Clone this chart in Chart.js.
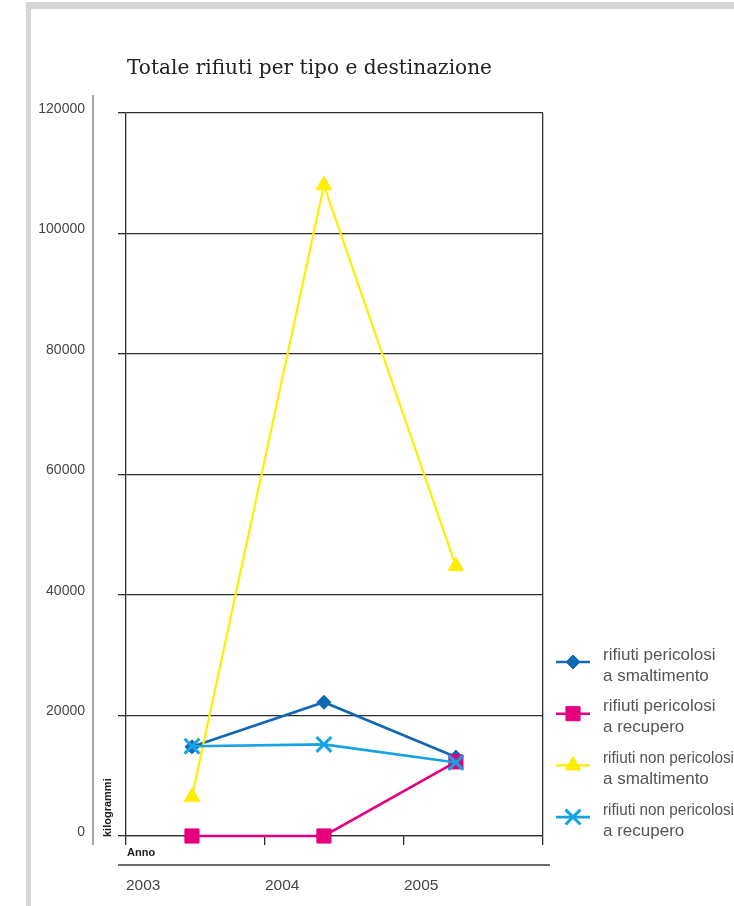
<!DOCTYPE html>
<html>
<head>
<meta charset="utf-8">
<script src="https://cdn.jsdelivr.net/npm/chart.js@4.4.1/dist/chart.umd.min.js"></script>
<style>
  html, body { margin: 0; padding: 0; background: #fff; }
  #wrap { position: relative; width: 734px; height: 906px; overflow: hidden; }
  .frame-v { position: absolute; left: 26px; top: 2px; width: 5px; height: 904px; background: #d6d6d6; }
  .frame-h { position: absolute; left: 26px; top: 2px; width: 708px; height: 7px; background: #d6d6d6; }
  canvas { position: absolute; left: 0; top: 0; }
</style>
</head>
<body>
<div id="wrap">
  <div class="frame-v"></div>
  <div class="frame-h"></div>
  <canvas id="chart" width="734" height="906"></canvas>
</div>
<script>
// Years and tick labels
const years = [2003, 2004, 2005];
const yearLabels = ['2003', '2004', '2005'];
const yTickValues = [0, 20000, 40000, 60000, 80000, 100000, 120000];

// Series values (kilogrammi)
const pericolosiSmaltimento = [14800, 22200, 13100];
const pericolosiRecupero = [0, 0, 12300];
const nonPericolosiSmaltimento = [6500, 108000, 44800];
const nonPericolosiRecupero = [14900, 15200, 12200];

// Series names, two lines each
const nameLines = [
  ['rifiuti pericolosi', 'a smaltimento'],
  ['rifiuti pericolosi', 'a recupero'],
  ['rifiuti non pericolosi', 'a smaltimento'],
  ['rifiuti non pericolosi', 'a recupero']
];

const titleText = 'Totale rifiuti per tipo e destinazione';
const yTitle = 'kilogrammi';
const xTitle = 'Anno';

// Horizontal extent of the year axis and the three year bands
const xMin = 2002.5;
const xMax = 2005.66;
const bandWidth = (xMax - xMin) / years.length;
const bandEdges = [0, 1, 2, 3].map(i => xMin + i * bandWidth);

const AXIS = '#2e2e2e';
const TEXT = '#454545';

function pts(values) {
  return values.map((v, i) => ({ x: years[i], y: v }));
}

const styles = [
  { color: '#1268b3', pointStyle: 'rectRot', radius: 7, width: 2.6, order: 3 },
  { color: '#e5007e', pointStyle: 'rect', radius: 10, width: 2.6, order: 2 },
  { color: '#ffee00', pointStyle: 'triangle', radius: 9, width: 2.2, order: 1 },
  { color: '#15a3e2', pointStyle: 'crossRot', radius: 10.5, width: 2.6, order: 0 }
];
const seriesValues = [pericolosiSmaltimento, pericolosiRecupero, nonPericolosiSmaltimento, nonPericolosiRecupero];

const datasets = seriesValues.map((vals, i) => {
  const s = styles[i];
  return {
    label: nameLines[i].join(' '),
    data: pts(vals),
    borderColor: s.color,
    backgroundColor: s.color,
    borderWidth: s.width,
    pointStyle: s.pointStyle,
    pointRadius: s.radius,
    pointBackgroundColor: s.color,
    pointBorderColor: s.color,
    pointBorderWidth: s.pointStyle === 'crossRot' ? 3 : 1,
    tension: 0,
    clip: false,
    order: s.order
  };
});

function drawMarker(ctx, style, x, y) {
  ctx.save();
  ctx.fillStyle = style.color;
  ctx.strokeStyle = style.color;
  const bw = style.pointStyle === 'crossRot' ? 3 : 1;
  ctx.lineWidth = bw;
  if (Chart.helpers && Chart.helpers.drawPoint) {
    Chart.helpers.drawPoint(ctx, { pointStyle: style.pointStyle, radius: style.radius, rotation: 0, borderWidth: bw }, x, y);
  } else {
    const r = style.radius;
    ctx.beginPath();
    ctx.arc(x, y, r * 0.7, 0, Math.PI * 2);
    ctx.fill();
  }
  ctx.restore();
}

// Title, side labels, decorative rules and the series key
const decorations = {
  id: 'decorations',
  afterDraw(chart) {
    const ctx = chart.ctx;
    const a = chart.chartArea;
    ctx.save();

    // title
    ctx.fillStyle = '#222';
    ctx.font = '20.5px "DejaVu Serif", "Liberation Serif", serif';
    ctx.textBaseline = 'alphabetic';
    ctx.textAlign = 'left';
    ctx.fillText(titleText, a.left + 1, 74, 365);

    // grey rule beside the value labels
    ctx.strokeStyle = '#8a8a8a';
    ctx.lineWidth = 1.5;
    ctx.beginPath();
    ctx.moveTo(a.left - 33, a.top - 18);
    ctx.lineTo(a.left - 33, a.bottom + 9);
    ctx.stroke();

    // rule above the year labels
    ctx.strokeStyle = '#3a3a3a';
    ctx.lineWidth = 1.3;
    ctx.beginPath();
    ctx.moveTo(a.left - 8, a.bottom + 29);
    ctx.lineTo(a.right + 7, a.bottom + 29);
    ctx.stroke();

    // axis captions
    ctx.fillStyle = '#222';
    ctx.font = 'bold 11px "Liberation Sans", Arial, sans-serif';
    ctx.textBaseline = 'middle';
    ctx.textAlign = 'left';
    ctx.fillText(xTitle, a.left + 1, a.bottom + 17);

    ctx.save();
    ctx.translate(a.left - 18, a.bottom + 1);
    ctx.rotate(-Math.PI / 2);
    ctx.textAlign = 'left';
    ctx.textBaseline = 'middle';
    ctx.fillText(yTitle, 0, 0);
    ctx.restore();

    // series key
    const lx0 = 556, lx1 = 590, tx = 603;
    chart.data.datasets.forEach((ds, i) => {
      const s = styles[i];
      const top = 655 + i * 51.7;
      const my = top + 7;
      ctx.strokeStyle = s.color;
      ctx.lineWidth = s.width;
      ctx.beginPath();
      ctx.moveTo(lx0, my);
      ctx.lineTo(lx1, my);
      ctx.stroke();
      drawMarker(ctx, s, (lx0 + lx1) / 2, my);

      ctx.fillStyle = '#555';
      ctx.font = '17px "Liberation Sans", Arial, sans-serif';
      ctx.textAlign = 'left';
      ctx.textBaseline = 'middle';
      ctx.fillText(nameLines[i][0], tx, top, 131);
      ctx.fillText(nameLines[i][1], tx, top + 21, 131);
    });

    ctx.restore();
  }
};

new Chart(document.getElementById('chart'), {
  type: 'line',
  data: { datasets },
  options: {
    responsive: false,
    animation: false,
    devicePixelRatio: 1,
    layout: { padding: { left: 0, top: 113, right: 191, bottom: 0 } },
    plugins: {
      legend: { display: false },
      tooltip: { enabled: false },
      title: { display: false }
    },
    scales: {
      x: {
        type: 'linear',
        position: 'bottom',
        min: xMin,
        max: xMax,
        afterBuildTicks: axis => { axis.ticks = bandEdges.map(v => ({ value: v })); },
        afterFit: axis => { axis.height = 70; },
        ticks: {
          autoSkip: false,
          maxRotation: 0,
          align: 'start',
          padding: 31,
          color: TEXT,
          font: { family: '"Liberation Sans", Arial, sans-serif', size: 15.5 },
          callback: (v, i) => (i < yearLabels.length ? yearLabels[i] : '')
        },
        grid: {
          drawOnChartArea: true,
          color: c => (c.index === bandEdges.length - 1 ? AXIS : 'rgba(0,0,0,0)'),
          tickColor: AXIS,
          tickLength: 9,
          lineWidth: 1.3
        },
        border: { display: true, color: AXIS, width: 1.3 }
      },
      y: {
        type: 'linear',
        position: 'left',
        min: 0,
        max: 120000,
        afterBuildTicks: axis => { axis.ticks = yTickValues.map(v => ({ value: v })); },
        afterFit: axis => { axis.width = 126; },
        ticks: {
          padding: 33,
          color: TEXT,
          font: { family: '"Liberation Sans", Arial, sans-serif', size: 14, lineHeight: 0.57 },
          callback: v => [String(v), '']
        },
        grid: {
          color: AXIS,
          tickColor: AXIS,
          tickLength: 8,
          lineWidth: 1.3
        },
        border: { display: true, color: AXIS, width: 1.3 }
      }
    }
  },
  plugins: [decorations]
});
</script>
</body>
</html>
